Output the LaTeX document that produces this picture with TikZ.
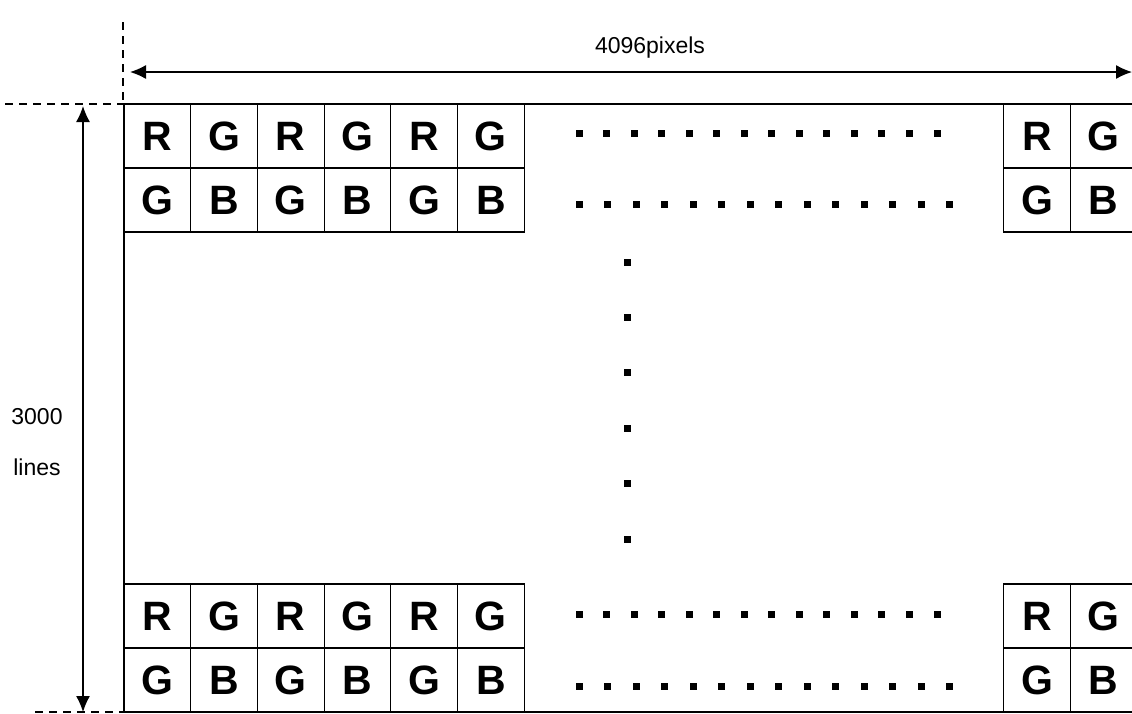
\documentclass[tikz,border=0pt]{standalone}
\usepackage{fontspec}
\setmainfont{Liberation Sans}
\usetikzlibrary{arrows.meta}

\begin{document}
\begin{tikzpicture}[x=1pt,y=-1pt,
  pix/.style={draw,line width=1.2pt,minimum width=66.7pt,minimum height=64pt,inner sep=0pt,
    font=\fontsize{41}{41}\selectfont\bfseries},
  dimline/.style={line width=1.3pt,{Latex[length=16pt,width=14pt]}-{Latex[length=16pt,width=14pt]}},
  guide/.style={line width=1.2pt,dash pattern=on 8pt off 6pt},
  lbl/.style={font=\fontsize{23}{23}\selectfont,inner sep=0pt}]
  \useasboundingbox (0,0) rectangle (1132,713);
  % guide lines and corners
  \coordinate (tl) at (124,104);
  \coordinate (bl) at (124,712);
  \coordinate (tr) at (1132,104);
  \coordinate (br) at (1132,712);
  \draw[guide] (123,22) -- (123,104);
  \draw[guide] (5,104) -- (tl);
  \draw[guide] (35,712) -- (bl);
  % left block of cells, top and bottom
  \foreach \c [count=\i from 0] in {R,G,R,G,R,G} {
    \node[pix] (ta\i) at ({157.35+66.7*\i},136) {\c};
    \node[pix] (ba\i) at ({157.35+66.7*\i},616) {\c};
  }
  \foreach \c [count=\i from 0] in {G,B,G,B,G,B} {
    \node[pix] (tb\i) at ({157.35+66.7*\i},200) {\c};
    \node[pix] (bb\i) at ({157.35+66.7*\i},680) {\c};
  }
  % right block of cells
  \foreach \c [count=\i from 0] in {R,G} {
    \node[pix] (tr\i) at ({1037+66.7*\i},136) {\c};
    \node[pix] (br\i) at ({1037+66.7*\i},616) {\c};
  }
  \foreach \c [count=\i from 0] in {G,B} {
    \node[pix] (ts\i) at ({1037+66.7*\i},200) {\c};
    \node[pix] (bs\i) at ({1037+66.7*\i},680) {\c};
  }
  % frame
  \draw[line width=2pt] (tr) -- (tl) -- (bl) -- (br);
  % dots
  \foreach \k in {0,...,13} {
    \fill ({575.5+27.54*\k},129.5) rectangle ++(7,7);
    \fill ({575.5+28.5*\k},200.5) rectangle ++(7,7);
    \fill ({575.5+27.54*\k},610.5) rectangle ++(7,7);
    \fill ({575.5+28.5*\k},682.5) rectangle ++(7,7);
  }
  \foreach \k in {0,...,5} \fill (623.5,{258.5+55.4*\k}) rectangle ++(7,7);
  % dimensions
  \coordinate (wl) at (130,72);
  \coordinate (wr) at (1132,72);
  \coordinate (ht) at (83,106);
  \coordinate (hb) at (83,712);
  \draw[dimline] (wl) -- (wr);
  \draw[dimline] (ht) -- (hb);
  \node[lbl] (wlab) at (650,48) {4096pixels};
  \node[lbl] (hlab) at (37,417) {3000};
  \node[lbl] (hlab2) at (37,467) {lines};
\end{tikzpicture}
\end{document}
